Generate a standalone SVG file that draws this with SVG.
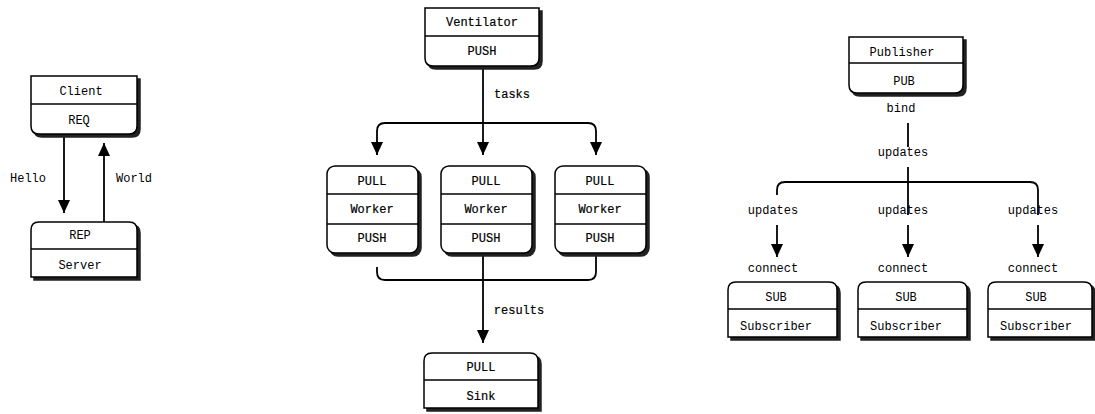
<svg xmlns="http://www.w3.org/2000/svg" width="1095" height="414" viewBox="0 0 1095 414">
<style>
.sh{fill:#222;stroke:#222;stroke-width:1.5}
.bx{fill:#fff;stroke:#000;stroke-width:1.5}
.dv{stroke:#000;stroke-width:1.4}
text{font-family:"Liberation Mono","DejaVu Sans Mono",monospace;font-size:12px;fill:#000;text-anchor:middle}
.b{stroke:#000;stroke-width:0.2}
.ln{fill:none;stroke:#000;stroke-width:1.8}
</style>
<defs>
<marker id="ah" markerUnits="userSpaceOnUse" markerWidth="14" markerHeight="14" viewBox="0 0 14 14" refX="13" refY="7" orient="auto">
<path d="M0,1 L13,7 L0,13 Z" fill="#000"/>
</marker>
</defs>
<rect width="1095" height="414" fill="#fff"/>

<g id="connectors">
<path class="ln" d="M64,134 V213" marker-end="url(#ah)"/>
<path class="ln" d="M104,222 V143" marker-end="url(#ah)"/>
<path class="ln" d="M483,66 V155" marker-end="url(#ah)"/>
<path class="ln" d="M377,155 V131 Q377,123 385,123 H588 Q596,123 596,131 V155" marker-end="url(#ah)"/>
<path class="ln" d="M377,141 V155" marker-end="url(#ah)"/>
<path class="ln" d="M377,267 V272 Q377,280 385,280 H588 Q596,280 596,272 V253"/>
<path class="ln" d="M483,253 V343" marker-end="url(#ah)"/>
<path class="ln" d="M908,123 V147"/>
<path class="ln" d="M908,167 V215"/>
<path class="ln" d="M777,195 V190 Q777,182 785,182 H1030 Q1038,182 1038,190 V215"/>
<path class="ln" d="M777,225 V257" marker-end="url(#ah)"/>
<path class="ln" d="M908,225 V257" marker-end="url(#ah)"/>
<path class="ln" d="M1038,225 V257" marker-end="url(#ah)"/>
<text x="28" y="182">Hello</text>
<text x="134" y="182">World</text>
<text class="b" x="512" y="98">tasks</text>
<text class="b" x="519" y="314">results</text>
<text x="901" y="112">bind</text>
<text x="903" y="156">updates</text>
<text x="773" y="214">updates</text>
<text x="903" y="214">updates</text>
<text x="1033" y="214">updates</text>
<text x="773" y="272">connect</text>
<text x="903" y="272">connect</text>
<text x="1033" y="272">connect</text>
</g>

<g id="client">
<path class="sh" d="M34,79 H140 V129 Q140,137 132,137 H42 Q34,137 34,129 Z"/>
<path class="bx" d="M31,76 H137 V126 Q137,134 129,134 H39 Q31,134 31,126 Z"/>
<line class="dv" x1="31" y1="104" x2="137" y2="104"/>
<text x="81" y="95">Client</text>
<text x="79" y="124">REQ</text>
</g>

<g id="server">
<path class="sh" d="M34,233 Q34,225 42,225 H132 Q140,225 140,233 V280 H34 Z"/>
<path class="bx" d="M31,230 Q31,222 39,222 H129 Q137,222 137,230 V277 H31 Z"/>
<line class="dv" x1="31" y1="249" x2="137" y2="249"/>
<text x="80" y="239">REP</text>
<text x="80" y="269">Server</text>
</g>

<g id="ventilator">
<path class="sh" d="M428,11 H542 V61 Q542,69 534,69 H436 Q428,69 428,61 Z"/>
<path class="bx" d="M425,8 H539 V58 Q539,66 531,66 H433 Q425,66 425,58 Z"/>
<line class="dv" x1="425" y1="36" x2="539" y2="36"/>
<text class="b" x="482" y="26">Ventilator</text>
<text class="b" x="482" y="55">PUSH</text>
</g>

<g id="worker1">
<rect class="sh" x="330" y="169" width="91" height="87" rx="8"/>
<rect class="bx" x="327" y="166" width="91" height="87" rx="8"/>
<line class="dv" x1="327" y1="194" x2="418" y2="194"/>
<line class="dv" x1="327" y1="224" x2="418" y2="224"/>
<text class="b" x="372" y="185">PULL</text>
<text class="b" x="372" y="213">Worker</text>
<text class="b" x="372" y="242">PUSH</text>
</g>

<g id="worker2">
<rect class="sh" x="444" y="169" width="91" height="87" rx="8"/>
<rect class="bx" x="441" y="166" width="91" height="87" rx="8"/>
<line class="dv" x1="441" y1="194" x2="532" y2="194"/>
<line class="dv" x1="441" y1="224" x2="532" y2="224"/>
<text class="b" x="486" y="185">PULL</text>
<text class="b" x="486" y="213">Worker</text>
<text class="b" x="486" y="242">PUSH</text>
</g>

<g id="worker3">
<rect class="sh" x="558" y="169" width="91" height="87" rx="8"/>
<rect class="bx" x="555" y="166" width="91" height="87" rx="8"/>
<line class="dv" x1="555" y1="194" x2="646" y2="194"/>
<line class="dv" x1="555" y1="224" x2="646" y2="224"/>
<text class="b" x="600" y="185">PULL</text>
<text class="b" x="600" y="213">Worker</text>
<text class="b" x="600" y="242">PUSH</text>
</g>

<g id="sink">
<path class="sh" d="M427,364 Q427,356 435,356 H533 Q541,356 541,364 V411 H427 Z"/>
<path class="bx" d="M424,361 Q424,353 432,353 H530 Q538,353 538,361 V408 H424 Z"/>
<line class="dv" x1="424" y1="380" x2="538" y2="380"/>
<text class="b" x="481" y="371">PULL</text>
<text class="b" x="481" y="400">Sink</text>
</g>

<g id="publisher">
<path class="sh" d="M852,40 H966 V88 Q966,96 958,96 H860 Q852,96 852,88 Z"/>
<path class="bx" d="M849,37 H963 V85 Q963,93 955,93 H857 Q849,93 849,85 Z"/>
<line class="dv" x1="849" y1="63" x2="963" y2="63"/>
<text x="902" y="56">Publisher</text>
<text x="904" y="85">PUB</text>
</g>

<g id="subscriber1">
<path class="sh" d="M731,293 Q731,285 739,285 H832 Q840,285 840,293 V340 H731 Z"/>
<path class="bx" d="M728,290 Q728,282 736,282 H829 Q837,282 837,290 V337 H728 Z"/>
<line class="dv" x1="728" y1="309" x2="837" y2="309"/>
<text x="776" y="301">SUB</text>
<text x="776" y="330">Subscriber</text>
</g>

<g id="subscriber2">
<path class="sh" d="M861,293 Q861,285 869,285 H962 Q970,285 970,293 V340 H861 Z"/>
<path class="bx" d="M858,290 Q858,282 866,282 H959 Q967,282 967,290 V337 H858 Z"/>
<line class="dv" x1="858" y1="309" x2="967" y2="309"/>
<text x="906" y="301">SUB</text>
<text x="906" y="330">Subscriber</text>
</g>

<g id="subscriber3">
<path class="sh" d="M991,293 Q991,285 999,285 H1087 Q1095,285 1095,293 V340 H991 Z"/>
<path class="bx" d="M988,290 Q988,282 996,282 H1084 Q1092,282 1092,290 V337 H988 Z"/>
<line class="dv" x1="988" y1="309" x2="1092" y2="309"/>
<text x="1036" y="301">SUB</text>
<text x="1036" y="330">Subscriber</text>
</g>
</svg>
